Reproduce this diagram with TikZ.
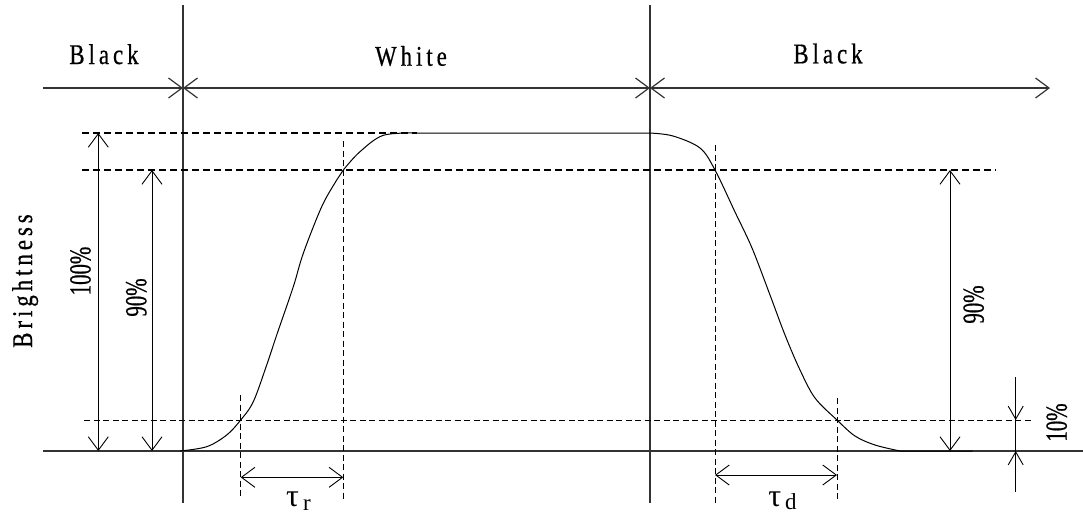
\documentclass[tikz,border=0pt]{standalone}
\usepackage{fontspec}
\setmainfont{Liberation Serif}
\newfontfamily\lblfont[FakeStretch=0.8,LetterSpace=14,FakeBold=0.6]{Liberation Serif}
\newfontfamily\pctfont[FakeStretch=0.68,FakeBold=0.6]{Liberation Serif}
\usetikzlibrary{arrows.meta}

\begin{document}
\begin{tikzpicture}[x=1pt, y=-1pt,
    barb/.tip={Straight Barb[length=13.5pt, width=20pt]},
    smallbarb/.tip={Straight Barb[length=13pt, width=15pt]},
    axis/.style={line width=1.2pt, black!80},
    guide/.style={line width=1.4pt, dash pattern=on 7pt off 4pt},
    thinguide/.style={line width=1pt, dash pattern=on 6pt off 3.5pt},
    dim/.style={line width=0.9pt, barb-barb},
    wave/.style={line width=1pt},
    lbl/.style={font=\lblfont\fontsize{28.5}{30}\selectfont, inner sep=0pt},
    pct/.style={font=\pctfont\fontsize{30.6}{32}\selectfont, inner sep=0pt, rotate=90},
    tau/.style={font=\fontsize{32}{34}\selectfont, inner sep=0pt, anchor=base}]
    \useasboundingbox (0,0) rectangle (1083,515);

    % black / white switching points
    \draw[axis] (183,5) -- (183,503);
    \draw[axis] (650,5) -- (650,503);

    % time axis
    \coordinate (t0) at (43,88);
    \coordinate (t1) at (183,88);
    \coordinate (t2) at (650,88);
    \coordinate (t3) at (1050,88);
    \draw[axis, -barb] (t0) -- (t1);
    \draw[axis, barb-barb] (t1) -- (t2);
    \draw[axis, barb-barb] (t2) -- (t3);
    \node[lbl, anchor=base] (black1) at (104,64) {Black};
    \node[lbl, anchor=base] (white) at (411,65.7) {White};
    \node[lbl, anchor=base] (black2) at (828,63.3) {Black};

    % zero line and levels
    \draw[axis] (43,451) -- (1083,451);
    \draw[guide] (82,133) -- (417,133);
    \draw[guide] (82,170) -- (996,170);
    \draw[thinguide] (84,420) -- (1033,420);
    \draw[thinguide] (240.7,395) -- (240.7,498);
    \draw[thinguide] (343.3,141) -- (343.3,500);
    \draw[thinguide] (715,145) -- (715,503);
    \draw[thinguide] (837,398) -- (837,501);

    % response
    \draw[wave] plot[smooth, tension=0.55] coordinates {(180,451) (206.7,446.7) (226.7,435)
        (240.7,420) (253.3,401.7) (266.7,365) (276.7,335) (293.3,286.7) (303.3,253.3)
        (321.7,206.7) (336.7,180) (343.3,170) (360,151.7) (383.3,135.3) (416.7,133)}
        -- (646,133)
        -- plot[smooth, tension=0.55] coordinates {(651,133.1) (673,136) (700,148)
        (715,170) (735,212) (752,248) (770,295) (785,335) (800,370) (815,398)
        (837,420) (855,436) (875,445) (900,451)} -- (972.7,451);

    % dimensions
    \draw[dim] (98.3,133) -- (98.3,451);
    \draw[dim] (152,170) -- (152,451);
    \draw[dim] (950,170) -- (950,451);
    \draw[dim] (240.7,477.3) -- (343.3,477.3);
    \draw[dim] (715,475) -- (837,475);
    \draw[line width=0.9pt] (1015.7,377.3) -- (1015.7,492.3);
    \draw[line width=0.9pt, -smallbarb] (1015.7,390) -- (1015.7,420);
    \draw[line width=0.9pt, -smallbarb] (1015.7,480) -- (1015.7,451);

    \node[lbl, anchor=base, rotate=90] (bright) at (32,281) {Brightness};
    \node[pct] (p100) at (80.5,271) {100\%};
    \node[pct] (p90a) at (136.3,297.5) {90\%};
    \node[pct] (p90b) at (973.7,304.5) {90\%};
    \node[pct] (p10) at (1056.7,422.5) {10\%};
    \node[tau] (taur) at (298.5,506) {τ\hspace{4pt}\raisebox{-4pt}{\fontsize{23}{23}\selectfont r}};
    \node[tau] (taud) at (782.5,506) {τ\hspace{4pt}\raisebox{-3pt}{\fontsize{23}{23}\selectfont d}};
\end{tikzpicture}
\end{document}
